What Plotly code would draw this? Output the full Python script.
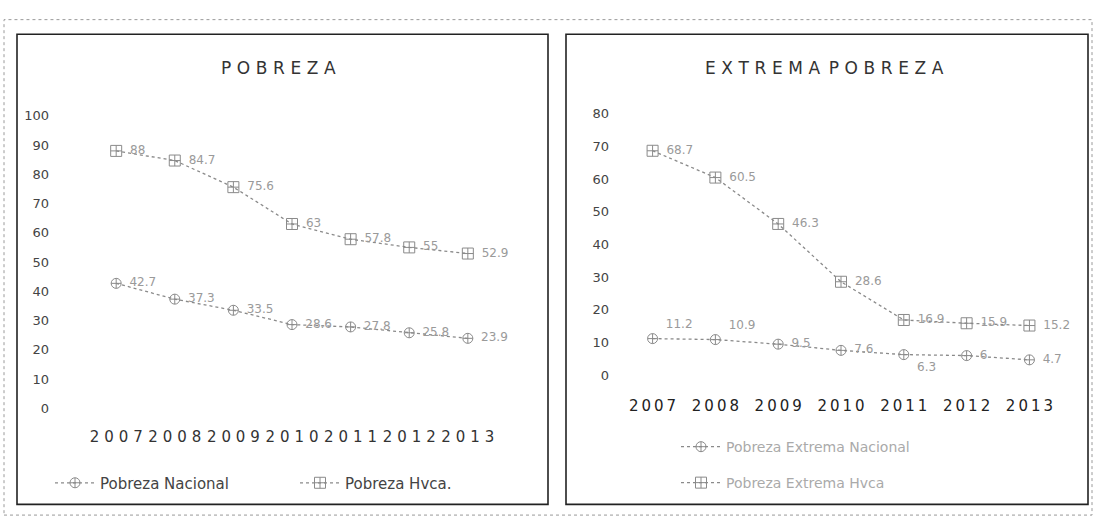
import plotly.graph_objects as go

years = ["2007", "2008", "2009", "2010", "2011", "2012", "2013"]

pobreza_nacional = [42.7, 37.3, 33.5, 28.6, 27.8, 25.8, 23.9]
pobreza_hvca = [88, 84.7, 75.6, 63, 57.8, 55, 52.9]

extrema_nacional = [11.2, 10.9, 9.5, 7.6, 6.3, 6, 4.7]
extrema_hvca = [68.7, 60.5, 46.3, 28.6, 16.9, 15.9, 15.2]

W, H = 1095, 526


def px(x):
    return x / W


def py(y):
    return 1 - y / H


def spaced(s, sep="\u2004"):
    return sep.join(list(s))


LINE_GREY = "#8a8a8a"
LABEL_GREY = "#9a9a9a"
AXIS_GREY = "#444444"
FONT = "DejaVu Sans"


def series(x, y, name, symbol, xa, ya, leg, pos="middle right", size=10):
    return go.Scatter(
        x=x, y=y, name=name,
        mode="lines+markers+text", text=["\u2002" + str(v) for v in y],
        textposition=pos, textfont=dict(color=LABEL_GREY, size=12, family=FONT),
        line=dict(color=LINE_GREY, width=1.3, dash="dot"),
        marker=dict(symbol=symbol, size=size, color=LINE_GREY, line=dict(width=1)),
        cliponaxis=False, xaxis=xa, yaxis=ya, legend=leg,
    )


fig = go.Figure()

# left chart
fig.add_trace(series(years, pobreza_nacional, "Pobreza Nacional", "circle-cross-open",
                     "x", "y", "legend"))
fig.add_trace(series(years, pobreza_hvca, "Pobreza Hvca.", "square-cross-open",
                     "x", "y", "legend", size=11))

# right chart
nac_pos = ["top right", "top right", "middle right", "middle right",
           "bottom right", "middle right", "middle right"]
fig.add_trace(series(years, extrema_nacional, "Pobreza Extrema Nacional", "circle-cross-open",
                     "x2", "y2", "legend2", pos=nac_pos))
fig.add_trace(series(years, extrema_hvca, "Pobreza Extrema Hvca", "square-cross-open",
                     "x2", "y2", "legend3", size=11))

axis_common = dict(showgrid=False, zeroline=False, showline=False, ticks="")

fig.update_layout(
    width=W, height=H,
    margin=dict(l=0, r=0, t=0, b=0),
    paper_bgcolor="white", plot_bgcolor="white",
    font=dict(family=FONT, color=AXIS_GREY),
    xaxis=dict(domain=[px(89), px(495)], anchor="y", type="category",
               tickvals=years, ticktext=[spaced(y) for y in years],
               tickfont=dict(size=15, color="#333333"), ticklabelstandoff=18,
               **axis_common),
    yaxis=dict(domain=[py(413), py(112)], anchor="x", range=[0, 100], dtick=10,
               tickfont=dict(size=13, color=AXIS_GREY), ticklabelstandoff=39,
               **axis_common),
    xaxis2=dict(domain=[px(624), px(1058)], anchor="y2", type="category",
                tickvals=years, ticktext=[spaced(y, "\u2009") for y in years],
                tickfont=dict(size=15, color="#222222"), ticklabelstandoff=20,
                **axis_common),
    yaxis2=dict(domain=[py(379), py(110)], anchor="x2", range=[0, 80], dtick=10,
                tickfont=dict(size=13, color=AXIS_GREY), ticklabelstandoff=14,
                **axis_common),
    legend=dict(orientation="h", x=px(50), y=py(490), xanchor="left", yanchor="middle",
                font=dict(size=15, color="#444444"), itemwidth=40, entrywidth=190,
                bgcolor="rgba(0,0,0,0)"),
    legend2=dict(orientation="v", x=px(676), y=py(453), xanchor="left", yanchor="middle",
                 font=dict(size=14, color="#aaaaaa"), itemwidth=40, bgcolor="rgba(0,0,0,0)"),
    legend3=dict(orientation="v", x=px(676), y=py(490), xanchor="left", yanchor="middle",
                 font=dict(size=14, color="#aaaaaa"), itemwidth=40, bgcolor="rgba(0,0,0,0)"),
    showlegend=True,
)

# titles
fig.add_annotation(x=px(278), y=py(63), xref="paper", yref="paper", showarrow=False,
                   xanchor="center", yanchor="middle",
                   text=spaced("POBREZA"), font=dict(size=17, color="#333333"))
fig.add_annotation(x=px(824), y=py(63), xref="paper", yref="paper", showarrow=False,
                   xanchor="center", yanchor="middle",
                   text="\u2002".join(spaced(w) for w in ["EXTREMA", "POBREZA"]),
                   font=dict(size=17, color="#333333"))

# frames
fig.add_shape(type="rect", xref="paper", yref="paper",
              x0=px(4), x1=px(1092), y0=py(523), y1=py(13),
              line=dict(color="#9a9a9a", width=1, dash="dot"))
fig.add_shape(type="rect", xref="paper", yref="paper",
              x0=px(17), x1=px(548), y0=py(512), y1=py(28),
              line=dict(color="#222222", width=1.6))
fig.add_shape(type="rect", xref="paper", yref="paper",
              x0=px(566), x1=px(1088), y0=py(512), y1=py(28),
              line=dict(color="#222222", width=1.6))

fig.write_html("out.html", config={"displayModeBar": False},
               post_script="document.body.style.margin='0';document.body.style.overflow='hidden';")
